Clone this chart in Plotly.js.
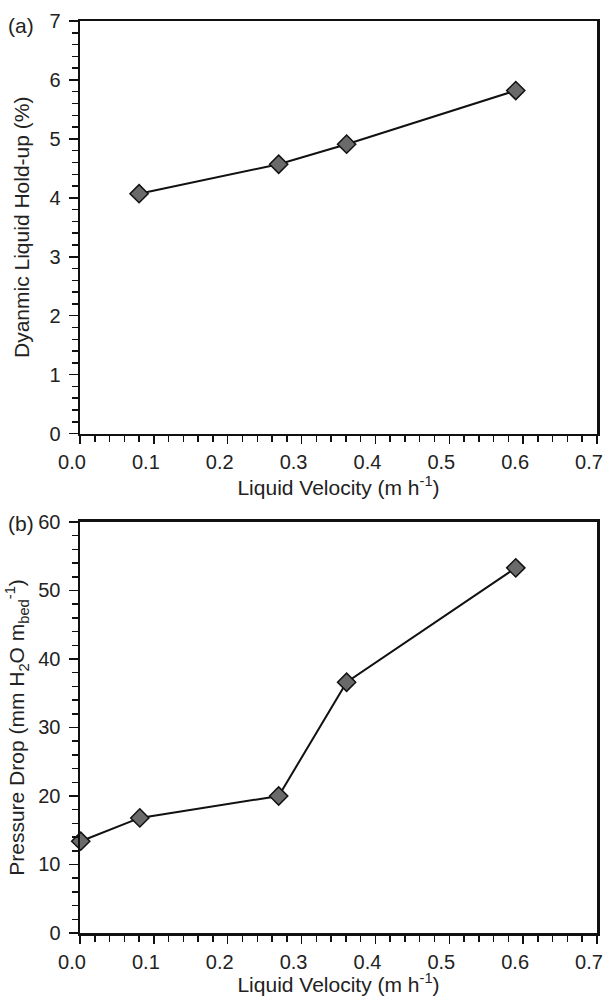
<!DOCTYPE html>
<html>
<head>
<meta charset="utf-8">
<script src="https://cdn.plot.ly/plotly-3.0.1.min.js"></script>
<style>html,body{margin:0;padding:0;background:#fff;}#chart{width:603px;height:996px;}</style>
</head>
<body>
<div id="chart"></div>
<script>
// Panel (a): dynamic liquid hold-up
const velocityA = [0.080, 0.269, 0.361, 0.590];
const holdup = [4.07, 4.57, 4.91, 5.82];
// Panel (b): pressure drop
const velocityB = [0.001, 0.081, 0.269, 0.361, 0.590];
const pressureDrop = [13.4, 16.8, 20.0, 36.6, 53.3];

const xTickVals = [0, 0.1, 0.2, 0.3, 0.4, 0.5, 0.6, 0.7];
const xTickText = ['0.0', '0.1', '0.2', '0.3', '0.4', '0.5', '0.6', '0.7'];

const family = 'Liberation Sans, Arial, sans-serif';
const tickFont = {family: family, size: 20, color: '#222'};
const titleFont = {family: family, size: 21, color: '#222'};

const markerStyle = {symbol: 'diamond', size: 14, color: '#6a6a6a', line: {color: '#111', width: 1.5}};
const lineStyle = {color: '#111', width: 2};

const traces = [
  {x: velocityA, y: holdup, mode: 'lines+markers', xaxis: 'x', yaxis: 'y', marker: markerStyle, line: lineStyle, cliponaxis: false},
  {x: velocityB, y: pressureDrop, mode: 'lines+markers', xaxis: 'x2', yaxis: 'y2', marker: markerStyle, line: lineStyle, cliponaxis: false}
];

function xAxis(anchor) {
  return {
    anchor: anchor, domain: [0, 1], range: [0, 0.7],
    tickmode: 'array', tickvals: xTickVals, ticktext: xTickText,
    ticks: 'outside', ticklen: 8, tickwidth: 1.5, tickcolor: '#111',
    minor: {dtick: 0.02, ticks: 'outside', ticklen: 6, tickwidth: 1.5, tickcolor: '#111'},
    showline: true, linewidth: 2.5, linecolor: '#111', mirror: true,
    showgrid: false, zeroline: false, ticklabelshift: -8, ticklabelstandoff: 1,
    tickfont: tickFont,
    title: {text: 'Liquid Velocity (m h<sup>-1</sup>)', font: titleFont, standoff: 8}
  };
}

const layout = {
  width: 603, height: 996,
  margin: {l: 80, r: 6, t: 21, b: 63},
  paper_bgcolor: '#fff', plot_bgcolor: '#fff',
  showlegend: false,
  font: tickFont,
  xaxis: xAxis('y'),
  xaxis2: xAxis('y2'),
  yaxis: {
    anchor: 'x', domain: [0.5476, 1], range: [0, 7], dtick: 1,
    ticks: 'outside', ticklen: 9, tickwidth: 1.5, tickcolor: '#111',
    minor: {dtick: 0.2, ticks: 'outside', ticklen: 6, tickwidth: 1.5, tickcolor: '#111'},
    showline: true, linewidth: 2.5, linecolor: '#111', mirror: true,
    showgrid: false, zeroline: false, tickfont: tickFont, ticklabelstandoff: 4,
    title: {text: 'Dyanmic Liquid Hold-up (%)', font: titleFont, standoff: 14}
  },
  yaxis2: {
    anchor: 'x2', domain: [0, 0.4507], range: [0, 60], dtick: 10,
    ticks: 'outside', ticklen: 9, tickwidth: 1.5, tickcolor: '#111',
    minor: {dtick: 2, ticks: 'outside', ticklen: 6, tickwidth: 1.5, tickcolor: '#111'},
    showline: true, linewidth: 2.5, linecolor: '#111', mirror: true,
    showgrid: false, zeroline: false, tickfont: tickFont, ticklabelstandoff: 4,
    title: {text: 'Pressure Drop (mm H<sub>2</sub>O m<sub>bed</sub><sup>-1</sup>)', font: titleFont, standoff: 8}
  },
  annotations: [
    {text: '(a)', xref: 'paper', yref: 'paper', x: -0.114, y: 1, xanchor: 'center', yanchor: 'middle', showarrow: false, font: titleFont, yshift: -4},
    {text: '(b)', xref: 'paper', yref: 'paper', x: -0.114, y: 0.4507, xanchor: 'center', yanchor: 'middle', showarrow: false, font: titleFont, yshift: -2}
  ]
};

Plotly.newPlot('chart', traces, layout, {displayModeBar: false, staticPlot: true});
</script>
</body>
</html>
